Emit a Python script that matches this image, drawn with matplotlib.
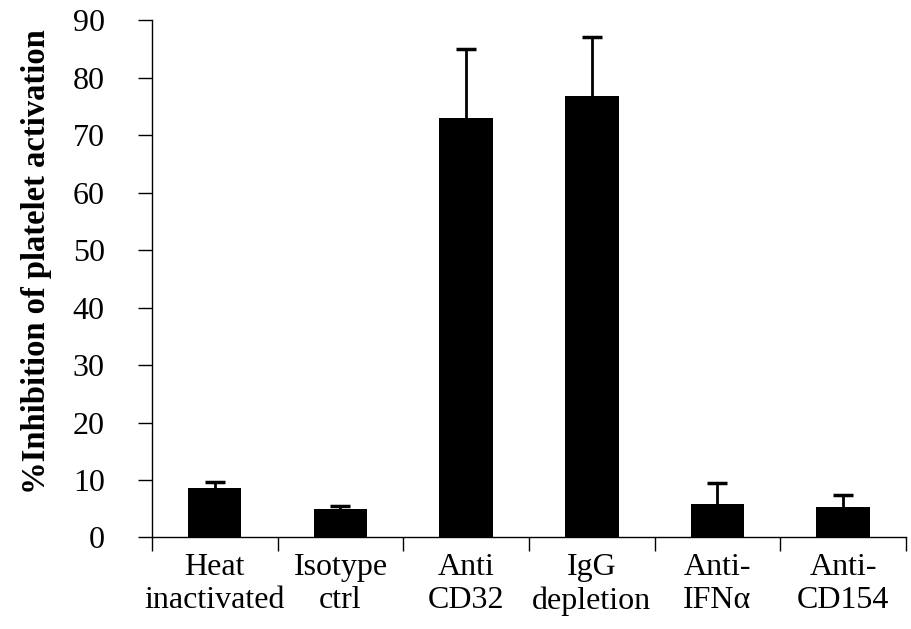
import numpy as np
from matplotlib import pyplot as plt

categories = ['Heat\ninactivated', 'Isotype\nctrl', 'Anti\nCD32', 'IgG\ndepletion', 'Anti-\nIFN\u03b1', 'Anti-\nCD154']
values = [8.6, 4.9, 73.0, 76.8, 5.9, 5.3]
upper = [9.6, 5.5, 84.9, 87.0, 9.5, 7.4]
errs = [u - v for u, v in zip(upper, values)]

plt.rcParams['font.family'] = ['Liberation Serif', 'DejaVu Serif']

fig = plt.figure(figsize=(9.11, 6.29), dpi=100)
ax = fig.add_axes([0.1668, 0.1455, 0.8277, 0.8225])

x = np.arange(len(categories))
ax.bar(x, values, width=0.425, color='black', zorder=2)
eb = ax.errorbar(x, values, yerr=[np.zeros(len(errs)), errs], fmt='none',
                 ecolor='black', elinewidth=2, capsize=7, capthick=2.5, zorder=1)
# only keep the upper cap
eb[1][0].set_visible(False)

ax.set_xlim(-0.5, len(categories) - 0.5)
ax.set_ylim(0, 90)
ax.set_yticks(np.arange(0, 91, 10))
ax.tick_params(axis='y', labelsize=23, length=10, width=1, direction='out', pad=24)

ax.set_xticks(x)
ax.set_xticklabels(categories, fontsize=23, linespacing=1.2)
ax.tick_params(axis='x', which='major', length=0, pad=11)
ax.set_xticks(np.arange(-0.5, len(categories), 1), minor=True)
ax.tick_params(axis='x', which='minor', length=10, width=1, direction='out')

for s in ['top', 'right']:
    ax.spines[s].set_visible(False)
ax.spines['left'].set_linewidth(1)
ax.spines['bottom'].set_linewidth(1)

ax.set_ylabel('%Inhibition of platelet activation', fontsize=23.5, fontweight='bold')
ax.yaxis.set_label_coords(-0.133, 0.534)

fig.savefig('out.png', dpi=100)
